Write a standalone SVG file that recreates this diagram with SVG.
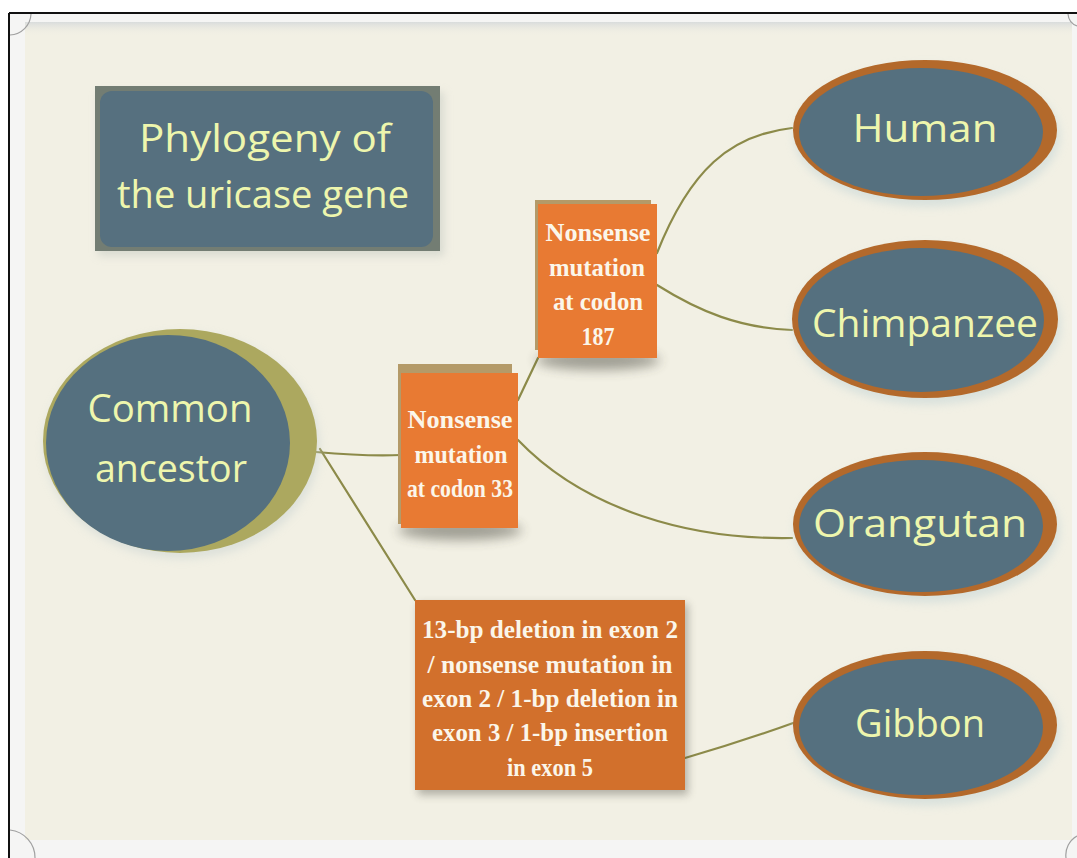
<svg xmlns="http://www.w3.org/2000/svg" width="1077" height="858" viewBox="0 0 1077 858">
  <style>
    .hand { font-family: "Open Sans", "Noto Sans", sans-serif; fill: #eef6ad; text-anchor: middle; }
    .serif { font-family: "Liberation Serif", "DejaVu Serif", serif; font-weight: bold; fill: #fbf6ea; text-anchor: middle; font-size: 25px; }
    .link { fill: none; stroke: #8c8a49; stroke-width: 2.2; stroke-linecap: round; }
    .leaf-ring { fill: #b3692b; }
    .leaf-core { fill: #55707f; }
    .box { fill: #e87a33; }
    .back { fill: #b49a68; }
    .curl { fill: none; stroke: #a0a0a0; stroke-width: 1.2; }
  </style>
  <defs>
    <filter id="soft" x="-20%" y="-20%" width="140%" height="140%">
      <feGaussianBlur stdDeviation="4"/>
    </filter>
    <filter id="softer" x="-30%" y="-60%" width="160%" height="220%">
      <feGaussianBlur stdDeviation="6"/>
    </filter>
    <linearGradient id="topShade" x1="0" y1="0" x2="0" y2="1">
      <stop offset="0" stop-color="#d9dcdc"/>
      <stop offset="1" stop-color="#f2f0e4" stop-opacity="0"/>
    </linearGradient>
  </defs>

  <!-- page and frame -->
  <rect width="1077" height="858" fill="#ffffff"/>
  <rect x="9" y="13" width="1068" height="845" fill="#f5f5f4"/>
  <rect x="25" y="22" width="1047" height="818" fill="#f2f0e4"/>
  <rect x="25" y="22" width="1047" height="14" fill="url(#topShade)"/>
  <line x1="9" y1="13" x2="1077" y2="13" stroke="#111" stroke-width="2"/>
  <line x1="9" y1="13" x2="9" y2="858" stroke="#111" stroke-width="2"/>
  <path class="curl" d="M10,35 A22,22 0 0 0 31,14"/>
  <path class="curl" d="M10,830 A28,28 0 0 1 35,858"/>
  <path class="curl" d="M1068,14 A14,14 0 0 0 1077,26"/>
  <path class="curl" d="M1077,836 A22,22 0 0 0 1066,858"/>

  <!-- connectors -->
  <g id="connectors">
    <path class="link" d="M316,452 C350,455 380,456 401,455"/>
    <path class="link" d="M320,449 L415,600"/>
    <path class="link" d="M518,400 L538,358"/>
    <path class="link" d="M518,440 C585,510 690,540 792,538"/>
    <path class="link" d="M657,253 C690,170 730,135 792,128"/>
    <path class="link" d="M657,285 C700,312 740,328 792,330"/>
    <path class="link" d="M685,758 C730,745 760,735 796,722"/>
  </g>

  <!-- title -->
  <g id="title">
    <rect x="98" y="92" width="346" height="164" fill="#c8ccc4" opacity="0.6" filter="url(#soft)"/>
    <rect x="95" y="86" width="345" height="165" fill="#737d73"/>
    <rect x="100" y="91" width="333" height="156" rx="12" fill="#56707f"/>
    <text class="hand" x="265" y="152" font-size="38" textLength="252" lengthAdjust="spacingAndGlyphs">Phylogeny of</text>
    <text class="hand" x="263" y="208" font-size="38" textLength="292" lengthAdjust="spacingAndGlyphs">the uricase gene</text>
  </g>

  <!-- root -->
  <g id="common-ancestor">
    <ellipse cx="182" cy="446" rx="138" ry="113" fill="#c9d3d2" opacity="0.5" filter="url(#soft)"/>
    <ellipse cx="180" cy="441" rx="137" ry="112" fill="#aca85f"/>
    <ellipse cx="168" cy="443" rx="122" ry="108" fill="#55707f"/>
    <text class="hand" x="170" y="422" font-size="38" textLength="165" lengthAdjust="spacingAndGlyphs">Common</text>
    <text class="hand" x="171" y="482" font-size="38" textLength="152" lengthAdjust="spacingAndGlyphs">ancestor</text>
  </g>

  <!-- mutation boxes -->
  <g id="codon-33">
    <ellipse cx="460" cy="530" rx="62" ry="10" fill="#3a3a30" opacity="0.45" filter="url(#softer)"/>
    <rect class="back" x="398" y="364" width="114" height="160"/>
    <rect class="box" x="401" y="373" width="117" height="155"/>
    <text class="serif" x="460" y="428" textLength="105" lengthAdjust="spacingAndGlyphs">Nonsense</text>
    <text class="serif" x="461" y="463" textLength="93" lengthAdjust="spacingAndGlyphs">mutation</text>
    <text class="serif" x="460" y="497" textLength="106" lengthAdjust="spacingAndGlyphs">at codon 33</text>
  </g>

  <g id="codon-187">
    <ellipse cx="598" cy="360" rx="62" ry="10" fill="#3a3a30" opacity="0.45" filter="url(#softer)"/>
    <rect class="back" x="535" y="200" width="116" height="150"/>
    <rect class="box" x="538" y="204" width="119" height="154"/>
    <text class="serif" x="598" y="241" textLength="105" lengthAdjust="spacingAndGlyphs">Nonsense</text>
    <text class="serif" x="597" y="276" textLength="96" lengthAdjust="spacingAndGlyphs">mutation</text>
    <text class="serif" x="598" y="310" textLength="90" lengthAdjust="spacingAndGlyphs">at codon</text>
    <text class="serif" x="598" y="345" textLength="33" lengthAdjust="spacingAndGlyphs">187</text>
  </g>

  <g id="gibbon-mutations">
    <rect x="418" y="604" width="270" height="191" fill="#3a3a30" opacity="0.35" filter="url(#soft)"/>
    <rect x="415" y="600" width="270" height="190" fill="#d2702c"/>
    <text class="serif" x="550" y="638" textLength="256" lengthAdjust="spacingAndGlyphs">13-bp deletion in exon 2</text>
    <text class="serif" x="550" y="673" textLength="245" lengthAdjust="spacingAndGlyphs">/ nonsense mutation in</text>
    <text class="serif" x="550" y="707" textLength="256" lengthAdjust="spacingAndGlyphs">exon 2 / 1-bp deletion in</text>
    <text class="serif" x="550" y="741" textLength="236" lengthAdjust="spacingAndGlyphs">exon 3 / 1-bp insertion</text>
    <text class="serif" x="550" y="776" textLength="86" lengthAdjust="spacingAndGlyphs">in exon 5</text>
  </g>

  <!-- species -->
  <g id="human">
    <ellipse cx="927" cy="136" rx="133" ry="71" fill="#c9d8d8" opacity="0.6" filter="url(#soft)"/>
    <ellipse class="leaf-ring" cx="925" cy="130" rx="132" ry="70"/>
    <ellipse class="leaf-core" cx="921" cy="132" rx="122" ry="64"/>
    <text class="hand" x="925" y="142" font-size="38" textLength="145" lengthAdjust="spacingAndGlyphs">Human</text>
  </g>

  <g id="chimpanzee">
    <ellipse cx="927" cy="325" rx="134" ry="80" fill="#c9d8d8" opacity="0.6" filter="url(#soft)"/>
    <ellipse class="leaf-ring" cx="925" cy="319" rx="133" ry="79"/>
    <ellipse class="leaf-core" cx="921" cy="320" rx="123" ry="72"/>
    <text class="hand" x="925" y="337" font-size="38" textLength="226" lengthAdjust="spacingAndGlyphs">Chimpanzee</text>
  </g>

  <g id="orangutan">
    <ellipse cx="927" cy="530" rx="133" ry="73" fill="#c9d8d8" opacity="0.6" filter="url(#soft)"/>
    <ellipse class="leaf-ring" cx="925" cy="524" rx="132" ry="72"/>
    <ellipse class="leaf-core" cx="921" cy="526" rx="122" ry="66"/>
    <text class="hand" x="920" y="537" font-size="38" textLength="214" lengthAdjust="spacingAndGlyphs">Orangutan</text>
  </g>

  <g id="gibbon">
    <ellipse cx="927" cy="731" rx="133" ry="75" fill="#c9d8d8" opacity="0.6" filter="url(#soft)"/>
    <ellipse class="leaf-ring" cx="925" cy="725" rx="132" ry="74"/>
    <ellipse class="leaf-core" cx="921" cy="727" rx="122" ry="68"/>
    <text class="hand" x="920" y="737" font-size="38" textLength="130" lengthAdjust="spacingAndGlyphs">Gibbon</text>
  </g>
</svg>
